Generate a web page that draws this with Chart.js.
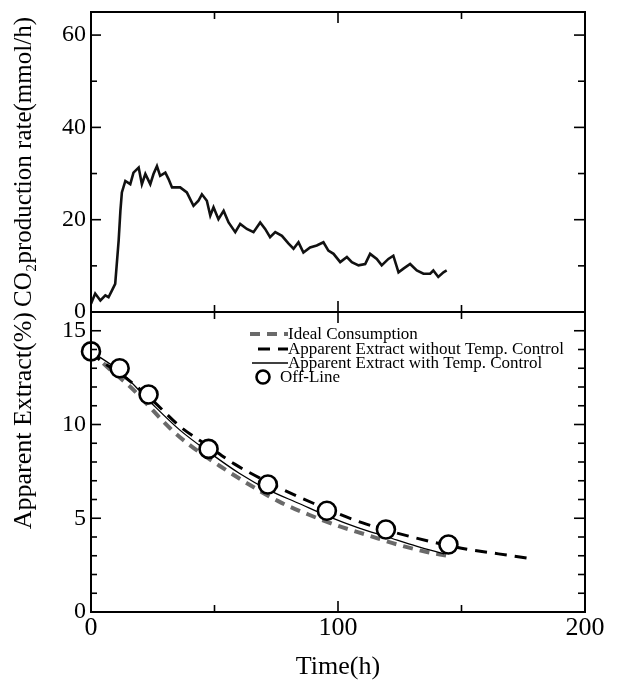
<!DOCTYPE html>
<html lang="en">
<head>
<meta charset="UTF-8">
<title>CO2 production rate / Apparent Extract</title>
<script src="https://cdn.jsdelivr.net/npm/chart.js"></script>
<style>
  body { margin: 0; background: #fff; }
  #wrap { width: 617px; height: 680px; }
</style>
</head>
<body>
<div id="wrap"><canvas id="fermChart" width="617" height="680"></canvas></div>
<script>
// upper panel: CO2 production rate (mmol/h)
const co2Time = [0, 1.7, 3.8, 5.8, 7.1, 8.5, 9.8, 11.2, 11.9, 12.5, 13.9, 15.9, 17.2, 19.3, 20.6, 22.0,
  24.0, 25.3, 26.7, 28.0, 30.1, 31.4, 32.8, 36.1, 38.8, 41.5, 43.5, 44.9, 46.9, 48.3, 49.6, 51.6,
  53.7, 55.7, 58.4, 60.4, 63.1, 65.8, 68.5, 70.5, 72.5, 74.6, 77.3, 80.0, 82.0, 84.0, 86.0, 88.7,
  91.4, 94.1, 96.1, 98.2, 100.9, 103.6, 105.6, 108.3, 111.0, 113.0, 115.7, 117.7, 120.4, 122.4,
  124.5, 126.5, 129.2, 131.9, 134.6, 137.3, 138.6, 140.6, 142.7, 144.0];
const co2Rate = [1.8, 4.0, 2.5, 3.6, 3.2, 4.7, 6.1, 15.5, 21.9, 25.9, 28.4, 27.7, 30.2, 31.3, 27.7, 29.9,
  27.7, 29.9, 31.6, 29.5, 30.2, 28.8, 27.0, 27.0, 25.9, 23.0, 24.1, 25.5, 24.1, 20.9, 22.7, 20.1,
  21.9, 19.4, 17.3, 19.1, 18.0, 17.3, 19.4, 18.0, 16.2, 17.3, 16.5, 14.8, 13.7, 15.1, 12.9, 14.0,
  14.4, 15.1, 13.3, 12.6, 10.8, 11.9, 10.8, 10.1, 10.4, 12.6, 11.5, 10.1, 11.5, 12.2,
  8.6, 9.4, 10.4, 9.0, 8.3, 8.3, 9.0, 7.6, 8.6, 9.0];

// lower panel: apparent extract (%)
const idealTime = [0, 8, 16, 24, 32, 40, 52, 64, 76, 88, 100, 112, 124, 136, 144];
const idealExtract = [13.9, 12.9, 12.0, 10.9, 9.8, 8.9, 7.8, 6.8, 5.9, 5.2, 4.6, 4.1, 3.6, 3.2, 3.0];
const noCtrlTime = [0, 4, 12, 24, 36, 48, 58, 72, 90, 110, 130, 150, 165, 178];
const noCtrlExtract = [13.9, 13.4, 12.7, 11.4, 9.9, 8.8, 7.9, 6.9, 5.8, 4.75, 4.0, 3.4, 3.1, 2.85];
const ctrlTime = [0, 12, 24, 36, 48, 60, 72, 84, 96, 108, 120, 132, 143];
const ctrlExtract = [13.9, 12.8, 11.2, 9.7, 8.5, 7.4, 6.5, 5.8, 5.1, 4.5, 4.0, 3.5, 3.1];
const offlineTime = [0, 11.6, 23.3, 47.6, 71.6, 95.5, 119.4, 144.7];
const offlineExtract = [13.9, 13.0, 11.6, 8.7, 6.8, 5.4, 4.4, 3.6];

// axis ticks
const timeTicks = [0, 100, 200];
const timeMinor = [50, 150];
const co2Ticks = [0, 20, 40, 60];
const co2Minor = [10, 30, 50];
const extractTicks = [0, 5, 10, 15];
const extractMinor = [1, 2, 3, 4, 6, 7, 8, 9, 11, 12, 13, 14];

const serif = 'Liberation Serif, Times New Roman, serif';
const pts = (xs, ys) => xs.map((x, i) => ({ x: x, y: ys[i] }));
// keep the plot box where the layout padding puts it
const noEdgePad = s => { s.paddingTop = 0; s.paddingBottom = 0; s.paddingLeft = 0; s.paddingRight = 0; };

// box frame, divider and inward ticks
const frameTicks = {
  id: 'frameTicks',
  afterDatasetsDraw(chart) {
    const ctx = chart.ctx;
    const a = chart.chartArea;
    const xs = chart.scales.x;
    const panels = [
      { s: chart.scales.yCO2, major: co2Ticks, minor: co2Minor },
      { s: chart.scales.yAE, major: extractTicks, minor: extractMinor }
    ];
    ctx.save();
    ctx.strokeStyle = '#000';
    ctx.lineWidth = 2;
    ctx.strokeRect(a.left, a.top, a.right - a.left, a.bottom - a.top);
    const line = (x1, y1, x2, y2) => { ctx.beginPath(); ctx.moveTo(x1, y1); ctx.lineTo(x2, y2); ctx.stroke(); };
    panels.forEach(p => {
      const top = p.s.getPixelForValue(p.s.max);
      const bot = p.s.getPixelForValue(p.s.min);
      line(a.left, bot, a.right, bot);
      ctx.lineWidth = 1.6;
      p.major.forEach(v => {
        const y = p.s.getPixelForValue(v);
        line(a.left, y, a.left + 10, y);
        line(a.right, y, a.right - 11, y);
      });
      p.minor.forEach(v => {
        const y = p.s.getPixelForValue(v);
        line(a.left, y, a.left + 6, y);
        line(a.right, y, a.right - 7, y);
      });
      timeTicks.forEach(v => {
        const x = xs.getPixelForValue(v);
        line(x, top, x, top + 11);
        line(x, bot, x, bot - 11);
      });
      timeMinor.forEach(v => {
        const x = xs.getPixelForValue(v);
        line(x, top, x, top + 7);
        line(x, bot, x, bot - 7);
      });
      ctx.lineWidth = 2;
    });
    ctx.restore();
  }
};

// legend inside the lower panel
const insideLegend = {
  id: 'insideLegend',
  afterDraw(chart) {
    const ctx = chart.ctx;
    const rows = [
      { ds: 1, y: 334, x0: 250, tx: 288 },
      { ds: 2, y: 349, x0: 258, tx: 288 },
      { ds: 3, y: 363, x0: 252, tx: 288 },
      { ds: 4, y: 377, x0: 263, tx: 280 }
    ];
    ctx.save();
    ctx.font = '17px ' + serif;
    ctx.textBaseline = 'middle';
    ctx.fillStyle = '#000';
    rows.forEach(r => {
      const d = chart.data.datasets[r.ds];
      if (d.showLine === false) {
        ctx.beginPath();
        ctx.arc(r.x0, r.y, 6.5, 0, Math.PI * 2);
        ctx.fillStyle = '#fff';
        ctx.fill();
        ctx.lineWidth = d.borderWidth;
        ctx.strokeStyle = d.borderColor;
        ctx.stroke();
        ctx.fillStyle = '#000';
      } else {
        ctx.beginPath();
        ctx.setLineDash(d.borderDash || []);
        ctx.lineWidth = d.borderWidth;
        ctx.strokeStyle = d.borderColor;
        ctx.moveTo(r.x0, r.y);
        ctx.lineTo(r.tx, r.y);
        ctx.stroke();
        ctx.setLineDash([]);
      }
      ctx.fillText(d.label, r.tx, r.y + 1);
    });
    ctx.restore();
  }
};

const ctx = document.getElementById('fermChart').getContext('2d');
const fermChart = new Chart(ctx, {
  type: 'line',
  data: {
    datasets: [
      {
        label: 'CO2 production rate',
        data: pts(co2Time, co2Rate),
        yAxisID: 'yCO2',
        borderColor: '#111',
        borderWidth: 2.6,
        pointRadius: 0,
        order: 4
      },
      {
        label: 'Ideal Consumption',
        data: pts(idealTime, idealExtract),
        yAxisID: 'yAE',
        borderColor: '#6a6a6a',
        borderWidth: 4,
        borderDash: [10, 7],
        pointRadius: 0,
        cubicInterpolationMode: 'monotone',
        order: 3
      },
      {
        label: 'Apparent Extract without Temp. Control',
        data: pts(noCtrlTime, noCtrlExtract),
        yAxisID: 'yAE',
        borderColor: '#000',
        borderWidth: 3,
        borderDash: [12, 8],
        pointRadius: 0,
        cubicInterpolationMode: 'monotone',
        order: 2
      },
      {
        label: 'Apparent Extract with Temp. Control',
        data: pts(ctrlTime, ctrlExtract),
        yAxisID: 'yAE',
        borderColor: '#000',
        borderWidth: 1.3,
        pointRadius: 0,
        cubicInterpolationMode: 'monotone',
        order: 1
      },
      {
        label: 'Off-Line',
        data: pts(offlineTime, offlineExtract),
        yAxisID: 'yAE',
        showLine: false,
        pointRadius: 9,
        pointBackgroundColor: '#fff',
        pointBorderColor: '#000',
        pointBorderWidth: 2.6,
        borderColor: '#000',
        borderWidth: 2.6,
        clip: false,
        order: 0
      }
    ]
  },
  options: {
    responsive: false,
    animation: false,
    layout: { padding: { top: 12, right: 32, left: 0, bottom: 0 } },
    plugins: { legend: { display: false }, tooltip: { enabled: false } },
    scales: {
      x: {
        type: 'linear',
        min: 0,
        max: 200,
        grid: { display: false, drawTicks: false },
        border: { display: false },
        afterBuildTicks: s => { s.ticks = timeTicks.map(v => ({ value: v })); },
        afterFit: s => { s.height = 68; noEdgePad(s); },
        ticks: { color: '#000', padding: 1, maxRotation: 0, autoSkip: false, font: { family: serif, size: 26 } },
        title: { display: true, text: 'Time(h)', color: '#000', padding: 0, font: { family: serif, size: 26, lineHeight: 1 } }
      },
      yAE: {
        type: 'linear',
        position: 'left',
        stack: 'panels',
        stackWeight: 1,
        weight: 0,
        min: 0,
        max: 16,
        grid: { display: false, drawTicks: false },
        border: { display: false },
        afterBuildTicks: s => { s.ticks = extractTicks.map(v => ({ value: v })); },
        afterFit: s => { s.width = 91; noEdgePad(s); },
        ticks: { color: '#000', padding: 5, autoSkip: false, font: { family: serif, size: 24 } },
        title: { display: true, text: 'Apparent Extract(%)', align: 'end', color: '#000', padding: { top: 11, bottom: 0 }, font: { family: serif, size: 26, lineHeight: 1 } }
      },
      yCO2: {
        type: 'linear',
        position: 'left',
        stack: 'panels',
        stackWeight: 1,
        weight: 1,
        min: 0,
        max: 65,
        grid: { display: false, drawTicks: false },
        border: { display: false },
        afterBuildTicks: s => { s.ticks = co2Ticks.map(v => ({ value: v })); },
        afterFit: s => { s.width = 91; noEdgePad(s); },
        ticks: { color: '#000', padding: 5, autoSkip: false, font: { family: serif, size: 24 } },
        title: { display: true, text: 'CO₂production rate(mmol/h)', color: '#000', padding: { top: 12, bottom: 0 }, font: { family: serif, size: 25, lineHeight: 1 } }
      }
    }
  },
  plugins: [frameTicks, insideLegend]
});
</script>
</body>
</html>
